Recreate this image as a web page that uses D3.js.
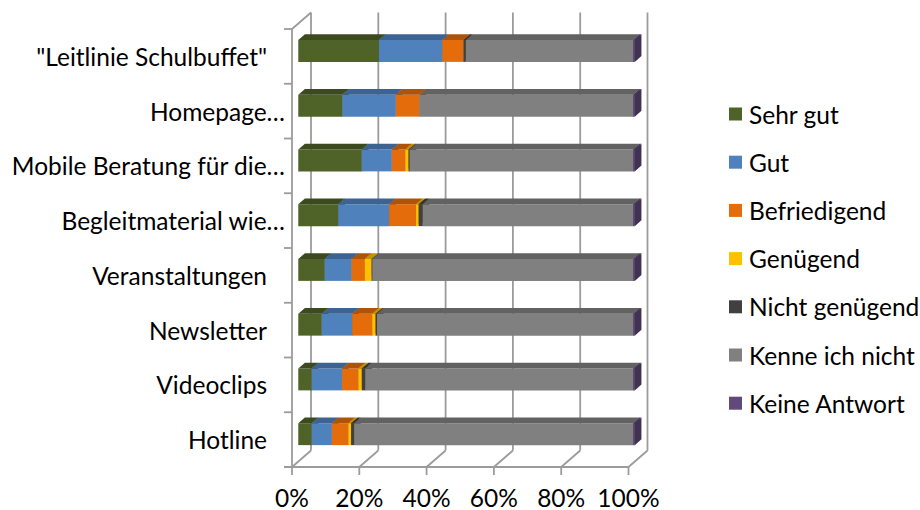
<!DOCTYPE html>
<html>
<head>
<meta charset="utf-8">
<script src="https://cdn.jsdelivr.net/npm/d3@7"></script>
<style>
  html, body { margin: 0; padding: 0; background: #fff; }
  svg { display: block; font-family: Lato, "Open Sans", sans-serif; }
</style>
</head>
<body>
<svg id="chart" width="920" height="510"></svg>
<script>
// Categories, listed top to bottom
const categories = [
  "\"Leitlinie Schulbuffet\"",
  "Homepage…",
  "Mobile Beratung für die…",
  "Begleitmaterial wie…",
  "Veranstaltungen",
  "Newsletter",
  "Videoclips",
  "Hotline"
];

const seriesNames = ["Sehr gut", "Gut", "Befriedigend", "Genügend", "Nicht genügend", "Kenne ich nicht", "Keine Antwort"];
const seriesColors = ["#4F6228", "#4F81BD", "#E46C0A", "#FFC000", "#404040", "#808080", "#604A7B"];

// Shares in percent, one value per category (same order as categories)
const sehrGut      = [24.0, 13.1, 18.9, 11.9,  7.9,  7.0,  4.0,  4.0];
const gut          = [18.8, 15.9,  8.9, 15.1,  7.9,  9.0,  9.0,  6.0];
const befriedigend = [ 6.3,  7.0,  4.0,  8.0,  4.0,  6.0,  4.9,  4.9];
const genuegend    = [ 0.0,  0.0,  1.0,  0.8,  2.0,  1.0,  1.0,  0.8];
const nichtGenuegend = [0.7, 0.0,  0.3,  1.2,  0.2,  0.4,  1.0,  0.9];
const kenneIchNicht  = [49.7, 63.5, 66.4, 62.5, 77.5, 76.1, 79.6, 82.9];
const keineAntwort   = [0.5,  0.5,  0.5,  0.5,  0.5,  0.5,  0.5,  0.5];

const xTicks = [0, 20, 40, 60, 80, 100];
const xTickLabels = ["0%", "20%", "40%", "60%", "80%", "100%"];

const seriesValues = [sehrGut, gut, befriedigend, genuegend, nichtGenuegend, kenneIchNicht, keineAntwort];

const svg = d3.select("#chart");

// Front plane of the 3D box and its depth offset
const x = d3.scaleLinear().domain([0, 100]).range([292, 628.5]);
const y = d3.scaleBand().domain(categories).range([29, 467]).paddingInner(0.6).paddingOuter(0.3);
const DX = 19, DY = -16.5;              // full depth offset (back wall)
const Z0 = 0.33, Z1 = 0.68;             // bar depth span
const proj = (xv, yp, z) => [x(xv) + z * DX, yp + z * DY];

const wallColor = "#9B9B9B";
const walls = svg.append("g").attr("fill", "none").attr("stroke", wallColor).attr("stroke-width", 1.8);

const yTop = y.range()[0], yBot = y.range()[1];
const step = y.step();

// Back-wall gridlines
xTicks.forEach(v => {
  const [bx, by0] = proj(v, yTop, 1);
  const [, by1] = proj(v, yBot, 1);
  walls.append("line").attr("x1", bx).attr("x2", bx).attr("y1", by0).attr("y2", by1);
  // floor diagonal
  walls.append("line").attr("x1", x(v)).attr("y1", yBot).attr("x2", bx).attr("y2", by1);
  // tick below the floor
  walls.append("line").attr("x1", x(v)).attr("x2", x(v)).attr("y1", yBot).attr("y2", yBot + 8);
});

// Floor front edge
walls.append("line").attr("x1", x(0) - 8).attr("x2", x(100)).attr("y1", yBot).attr("y2", yBot);
// Left wall front edge and its top edge
walls.append("line").attr("x1", x(0)).attr("x2", x(0)).attr("y1", yTop).attr("y2", yBot);
const [tlx, tly] = proj(0, yTop, 1);
walls.append("line").attr("x1", x(0)).attr("y1", yTop).attr("x2", tlx).attr("y2", tly);
// Category ticks
d3.range(categories.length + 1).forEach(i => {
  const yy = yTop + i * step;
  walls.append("line").attr("x1", x(0) - 8).attr("x2", x(0)).attr("y1", yy).attr("y2", yy);
});

// Stacked 3D bars
const bars = svg.append("g");
const poly = pts => pts.map(p => p.join(",")).join(" ");
categories.forEach((cat, ci) => {
  const yb0 = y(cat), yb1 = y(cat) + y.bandwidth();
  let acc = 0;
  seriesValues.forEach((vals, si) => {
    const v = vals[ci];
    if (v <= 0) return;
    const a = acc, b = acc + v;
    acc = b;
    const col = d3.color(seriesColors[si]);
    const topCol = col.darker(0.75).formatHex();
    const sideCol = col.darker(1.1).formatHex();
    const f = (xv, yy) => proj(xv, yy, Z0);
    const k = (xv, yy) => proj(xv, yy, Z1);
    // front face
    bars.append("polygon").attr("fill", col.formatHex())
      .attr("points", poly([f(a, yb0), f(b, yb0), f(b, yb1), f(a, yb1)]));
    // top face
    bars.append("polygon").attr("fill", topCol)
      .attr("points", poly([f(a, yb0), f(b, yb0), k(b, yb0), k(a, yb0)]));
    // right side face
    bars.append("polygon").attr("fill", sideCol)
      .attr("points", poly([f(b, yb0), k(b, yb0), k(b, yb1), f(b, yb1)]));
  });
});

// Category labels
const labels = svg.append("g").attr("font-size", 24.5).attr("fill", "#000");
categories.forEach(cat => {
  const truncated = cat.endsWith("…");
  labels.append("text")
    .attr("x", truncated ? 285 : 267)
    .attr("y", y(cat) + y.bandwidth() / 2)
    .attr("text-anchor", "end")
    .attr("dominant-baseline", "central")
    .text(cat);
});

// Value axis labels
xTicks.forEach((v, i) => {
  labels.append("text")
    .attr("x", x(v))
    .attr("y", 497)
    .attr("text-anchor", "middle")
    .attr("dominant-baseline", "central")
    .text(xTickLabels[i]);
});

// Legend
const legend = svg.append("g").attr("font-size", 24.5);
seriesNames.forEach((name, i) => {
  const cy = 114 + i * 48.2;
  legend.append("rect").attr("x", 729).attr("y", cy - 6.5).attr("width", 13).attr("height", 13)
    .attr("fill", seriesColors[i]);
  legend.append("text").attr("x", 749).attr("y", cy).attr("dominant-baseline", "central")
    .attr("fill", "#000").text(name);
});
</script>
</body>
</html>
